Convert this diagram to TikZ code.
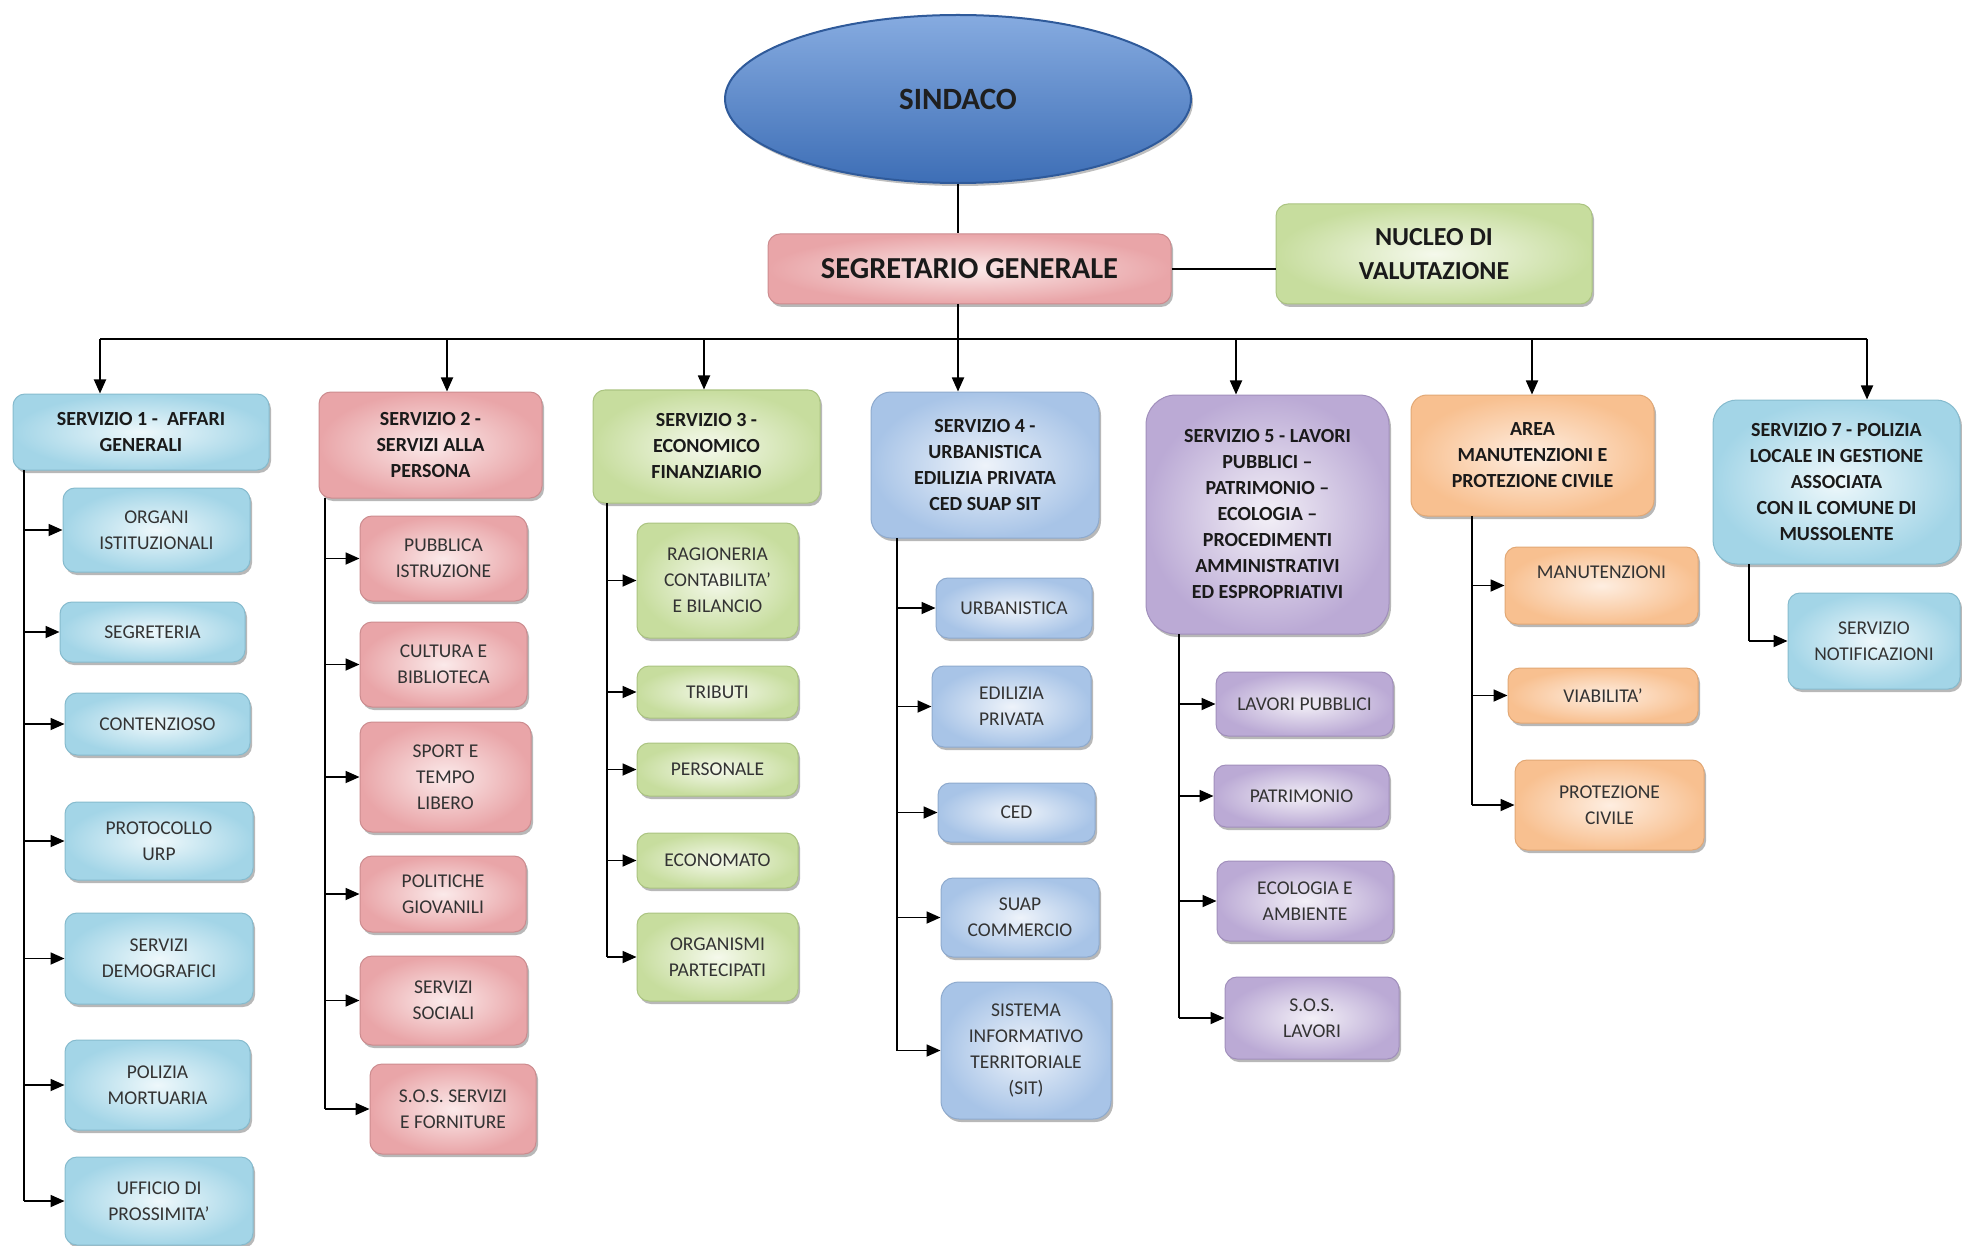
\documentclass[tikz,border=0pt]{standalone}
\usepackage{fontspec}
\setmainfont{Carlito}
\usetikzlibrary{arrows.meta,shapes.geometric,shadows}
\definecolor{blueL}{HTML}{EEF8FB}\definecolor{blueM}{HTML}{A3D5E7}\definecolor{blueD}{HTML}{86BBCE}
\definecolor{redL}{HTML}{FBEAEA}\definecolor{redM}{HTML}{E9A5A8}\definecolor{redD}{HTML}{CC8C8F}
\definecolor{greenL}{HTML}{F5F9EC}\definecolor{greenM}{HTML}{C7DD9E}\definecolor{greenD}{HTML}{ABC481}
\definecolor{steelL}{HTML}{EEF3FA}\definecolor{steelM}{HTML}{A8C4E7}\definecolor{steelD}{HTML}{8EAACE}
\definecolor{purpL}{HTML}{F3F0F7}\definecolor{purpM}{HTML}{BBAAD5}\definecolor{purpD}{HTML}{A18FBC}
\definecolor{orL}{HTML}{FEEEE1}\definecolor{orM}{HTML}{F8C090}\definecolor{orD}{HTML}{E2A875}
\definecolor{sinT}{HTML}{86ABE0}\definecolor{sinB}{HTML}{3D6EB6}\definecolor{sinD}{HTML}{2F5A9A}
\definecolor{headtxt}{HTML}{1A1A1A}\definecolor{subtxt}{HTML}{333333}
\begin{document}
\begin{tikzpicture}[x=1pt,y=-1pt,
  card/.style={rounded corners=12pt, align=center, inner sep=1pt, line width=1pt,
    drop shadow={shadow xshift=2pt,shadow yshift=-3pt,fill=black,opacity=0.28}},
  head/.style={card, font=\fontsize{20}{26}\selectfont\bfseries, text=headtxt},
  sub/.style={card, font=\fontsize{19.5}{26}\selectfont, text=subtxt},
  sz/.style 2 args={minimum width=#1pt, minimum height=#2pt},
  cblue/.style={draw=blueD, inner color=blueL, outer color=blueM},
  cred/.style={draw=redD, inner color=redL, outer color=redM},
  cgreen/.style={draw=greenD, inner color=greenL, outer color=greenM},
  csteel/.style={draw=steelD, inner color=steelL, outer color=steelM},
  cpurp/.style={draw=purpD, inner color=purpL, outer color=purpM},
  cor/.style={draw=orD, inner color=orL, outer color=orM},
  link/.style={line width=1.8pt, draw=black},
  arr/.style={link, -{Triangle[length=14pt,width=12pt]}}
]
\fill[white] (0,0) rectangle (1962,1246);
\useasboundingbox (0,0) rectangle (1962,1246);

% top
\node[ellipse, draw=sinD, line width=2pt, top color=sinT, bottom color=sinB,
  minimum width=466pt, minimum height=168pt, inner sep=0pt,
  font=\fontsize{31}{34}\selectfont\bfseries, text=black!88,
  drop shadow={shadow xshift=2pt,shadow yshift=-3pt,fill=black,opacity=0.25}] (SIN) at (958,99) {SINDACO};
\node[card, cred, sz={403}{70}, font=\fontsize{30.5}{34}\selectfont\bfseries, text=headtxt] (SEG) at (969.5,269) {SEGRETARIO GENERALE};
\node[card, cgreen, sz={316}{100}, font=\fontsize{26}{34}\selectfont\bfseries, text=headtxt] (NUC) at (1434,254) {NUCLEO DI\\VALUTAZIONE};

% level 1
\node[head, cblue, sz={256}{76}] (S1) at (141,432) {SERVIZIO 1 -\ \ AFFARI\\GENERALI};
\node[head, cred, sz={223}{106}] (S2) at (430.5,445) {SERVIZIO 2 -\\SERVIZI ALLA\\PERSONA};
\node[head, cgreen, sz={227}{113}] (S3) at (706.5,446.5) {SERVIZIO 3 -\\ECONOMICO\\FINANZIARIO};
\node[head, csteel, sz={228}{146}, rounded corners=20pt] (S4) at (985,465) {SERVIZIO 4 -\\URBANISTICA\\EDILIZIA PRIVATA\\CED SUAP SIT};
\node[head, cpurp, sz={243}{239}, rounded corners=30pt] (S5) at (1267.5,514.5) {SERVIZIO 5 - LAVORI\\PUBBLICI –\\PATRIMONIO –\\ECOLOGIA –\\PROCEDIMENTI\\AMMINISTRATIVI\\ED ESPROPRIATIVI};
\node[head, cor, sz={243}{121}, rounded corners=16pt] (S6) at (1532.5,455.5) {AREA\\MANUTENZIONI E\\PROTEZIONE CIVILE};
\node[head, cblue, sz={247}{164}, rounded corners=24pt] (S7) at (1836.5,482) {SERVIZIO 7 - POLIZIA\\LOCALE IN GESTIONE\\ASSOCIATA\\CON IL COMUNE DI\\MUSSOLENTE};

% column 1
\node[sub, cblue, sz={187}{84}] (c11) at (156.5,530) {ORGANI\\ISTITUZIONALI};
\node[sub, cblue, sz={185}{60}] (c12) at (152.5,632) {SEGRETERIA};
\node[sub, cblue, sz={185}{62}] (c13) at (157.5,724) {CONTENZIOSO};
\node[sub, cblue, sz={188}{78}] (c14) at (159,841) {PROTOCOLLO\\URP};
\node[sub, cblue, sz={188}{91}] (c15) at (159,958.5) {SERVIZI\\DEMOGRAFICI};
\node[sub, cblue, sz={185}{90}] (c16) at (157.5,1085) {POLIZIA\\MORTUARIA};
\node[sub, cblue, sz={188}{88}] (c17) at (159,1201) {UFFICIO DI\\PROSSIMITA'};

% column 2
\node[sub, cred, sz={167}{85}] (c21) at (443.5,558.5) {PUBBLICA\\ISTRUZIONE};
\node[sub, cred, sz={167}{85}] (c22) at (443.5,664.5) {CULTURA E\\BIBLIOTECA};
\node[sub, cred, sz={171}{110}] (c23) at (445.5,777) {SPORT E\\TEMPO\\LIBERO};
\node[sub, cred, sz={166}{76}] (c24) at (443,894) {POLITICHE\\GIOVANILI};
\node[sub, cred, sz={167}{89}] (c25) at (443.5,1000.5) {SERVIZI\\SOCIALI};
\node[sub, cred, sz={166}{90}] (c26) at (453,1109) {S.O.S. SERVIZI\\E FORNITURE};

% column 3
\node[sub, cgreen, sz={161}{115}] (c31) at (717.5,580.5) {RAGIONERIA\\CONTABILITA'\\E BILANCIO};
\node[sub, cgreen, sz={161}{52}] (c32) at (717.5,692) {TRIBUTI};
\node[sub, cgreen, sz={161}{53}] (c33) at (717.5,769.5) {PERSONALE};
\node[sub, cgreen, sz={161}{55}] (c34) at (717.5,860.5) {ECONOMATO};
\node[sub, cgreen, sz={161}{88}] (c35) at (717.5,957) {ORGANISMI\\PARTECIPATI};

% column 4
\node[sub, csteel, sz={156}{60}] (c41) at (1014,608) {URBANISTICA};
\node[sub, csteel, sz={159}{81}] (c42) at (1011.5,706.5) {EDILIZIA\\PRIVATA};
\node[sub, csteel, sz={157}{59}] (c43) at (1016.5,812.5) {CED};
\node[sub, csteel, sz={158}{79}] (c44) at (1020,917.5) {SUAP\\COMMERCIO};
\node[sub, csteel, sz={170}{137}, rounded corners=18pt] (c45) at (1026,1050.5) {SISTEMA\\INFORMATIVO\\TERRITORIALE\\(SIT)};

% column 5
\node[sub, cpurp, sz={177}{64}] (c51) at (1304.5,704) {LAVORI PUBBLICI};
\node[sub, cpurp, sz={175}{62}] (c52) at (1301.5,796) {PATRIMONIO};
\node[sub, cpurp, sz={176}{80}] (c53) at (1305,901) {ECOLOGIA E\\AMBIENTE};
\node[sub, cpurp, sz={174}{82}] (c54) at (1312,1018) {S.O.S.\\LAVORI};

% column 6
\node[sub, cor, sz={193}{77}] (c61) at (1601.5,585.5) {MANUTENZIONI\\\mbox{}};
\node[sub, cor, sz={190}{55}] (c62) at (1603,695.5) {VIABILITA'};
\node[sub, cor, sz={189}{90}] (c63) at (1609.5,805) {PROTEZIONE\\CIVILE};

% column 7
\node[sub, cblue, sz={172}{96}] (c71) at (1874,641) {SERVIZIO\\NOTIFICAZIONI};

% connectors top
\draw[link] (SIN.south) -- (SIN.south |- SEG.north);
\draw[link] (SEG.east) -- (SEG.east -| NUC.west);
\coordinate (d1) at (100,339);
\coordinate (d2) at (447,339);
\coordinate (d3) at (704,339);
\coordinate (d4) at (958,339);
\coordinate (d5) at (1236,339);
\coordinate (d6) at (1532,339);
\coordinate (d7) at (1867,339);
\draw[link] (SEG.south -| d4) -- (d4);
\draw[link] (d1) -- (d7);
\draw[arr] (d1) -- (d1 |- S1.north);
\draw[arr] (d2) -- (d2 |- S2.north);
\draw[arr] (d3) -- (d3 |- S3.north);
\draw[arr] (d4) -- (d4 |- S4.north);
\draw[arr] (d5) -- (d5 |- S5.north);
\draw[arr] (d6) -- (d6 |- S6.north);
\draw[arr] (d7) -- (d7 |- S7.north);

% spines
\coordinate (p1) at (24,470);
\coordinate (p2) at (325,498);
\coordinate (p3) at (607,503);
\coordinate (p4) at (897,538);
\coordinate (p5) at (1179,634);
\coordinate (p6) at (1472,516);
\coordinate (p7) at (1749,564);
\draw[link, line width=1.5pt] (p1) -- (p1 |- c17.west);
\draw[link, line width=1.5pt] (p2) -- (p2 |- c26.west);
\draw[link, line width=1.5pt] (p3) -- (p3 |- c35.west);
\draw[link, line width=1.5pt] (p4) -- (p4 |- c45.west);
\draw[link, line width=1.5pt] (p5) -- (p5 |- c54.west);
\draw[link, line width=1.5pt] (p6) -- (p6 |- c63.west);
\draw[link, line width=1.5pt] (p7) -- (p7 |- c71.west);

\foreach \c in {c11,c12,c13,c14,c15,c16,c17} \draw[arr] (p1 |- \c.west) -- (\c.west);
\foreach \c in {c21,c22,c23,c24,c25,c26} \draw[arr] (p2 |- \c.west) -- (\c.west);
\foreach \c in {c31,c32,c33,c34,c35} \draw[arr] (p3 |- \c.west) -- (\c.west);
\foreach \c in {c41,c42,c43,c44,c45} \draw[arr] (p4 |- \c.west) -- (\c.west);
\foreach \c in {c51,c52,c53,c54} \draw[arr] (p5 |- \c.west) -- (\c.west);
\foreach \c in {c61,c62,c63} \draw[arr] (p6 |- \c.west) -- (\c.west);
\draw[arr] (p7 |- c71.west) -- (c71.west);
\end{tikzpicture}
\end{document}
